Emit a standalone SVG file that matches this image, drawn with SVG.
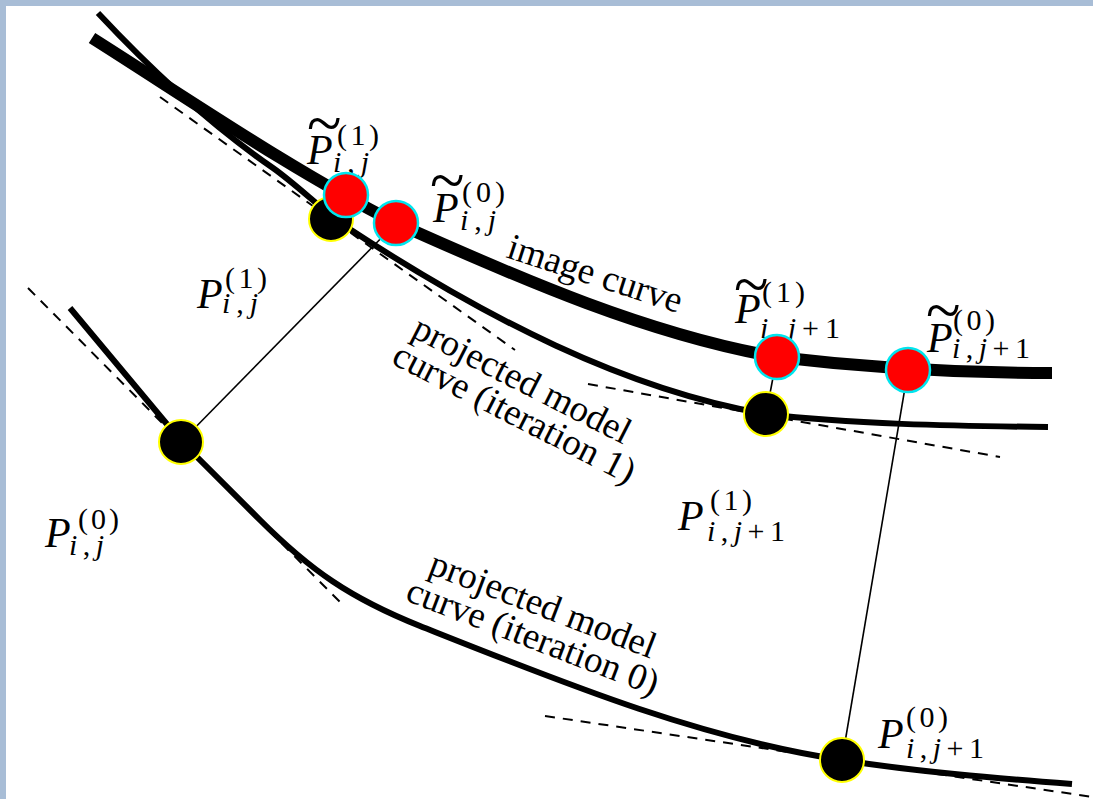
<svg xmlns="http://www.w3.org/2000/svg" width="1093" height="799" viewBox="0 0 1093 799">
<style>
.curve{fill:none;stroke:#000;stroke-linecap:butt;stroke-linejoin:round}
.img{stroke-width:12}
.mod{stroke-width:6}
.tan{fill:none;stroke:#000;stroke-width:2;stroke-dasharray:10 8}
.link{stroke:#000;stroke-width:1.6;fill:none}
.pt{fill:#000;stroke:#ffff00;stroke-width:2}
.ip{fill:#ff0000;stroke:#00e5ee;stroke-width:2.5}
text{font-family:"Liberation Serif","Times New Roman",serif;fill:#000}
.P{font-size:42px;font-style:italic}
.s{font-size:30px}
.it{font-style:italic}
.tl{font-size:44px}
.lab{font-size:37px}
</style>
<rect x="0" y="0" width="1093" height="799" fill="#a8bdd6"/>
<rect x="6" y="6" width="1087" height="793" fill="#ffffff"/>

<g id="tangents">
<line class="tan" x1="28" y1="288" x2="340" y2="602"/>
<line class="tan" x1="160" y1="97" x2="515" y2="350"/>
<line class="tan" x1="588" y1="384" x2="1000" y2="457"/>
<line class="tan" x1="545" y1="716" x2="1093" y2="797"/>
</g>

<g id="curves">
<path id="image-curve" class="curve img" d="M92,38 C193,102 295,172 396,223 C523,280 650,335 777,357 C869,368 960,373 1052,373"/>
<path id="model-curve-1" class="curve mod" d="M98,13 C156,75 215,128 273,168 C297,185 321,209 345,226 C485,318 626,390 766,414 C850,424 950,426 1048,427"/>
<path id="model-curve-0" class="curve mod" d="M70,308 L181,441 L260,520 C310,570 350,598 420,626 C561,682 701,739 842,760 C919,772 995,778 1072,784"/>
</g>

<g id="connectors">
<line class="link" x1="181" y1="442" x2="396" y2="223"/>
<line class="link" x1="766" y1="414" x2="777" y2="357"/>
<line class="link" x1="842" y1="760" x2="908" y2="370"/>
</g>

<g id="curve-labels">
<text class="lab" transform="translate(505,257) rotate(18)">image curve</text>
<text class="lab" transform="translate(410,336) rotate(27)">projected model</text>
<text class="lab" transform="translate(390,363) rotate(27)">curve (iteration 1)</text>
<text class="lab" transform="translate(427,573) rotate(21)">projected model</text>
<text class="lab" transform="translate(404,600) rotate(21)">curve (iteration 0)</text>
</g>

<g id="P0_ij">
<text class="P" x="45" y="547">P</text>
<text class="s" x="78" y="529" textLength="41" lengthAdjust="spacing">(0)</text>
<text class="s" x="69" y="555" textLength="35" lengthAdjust="spacing"><tspan class="it">i</tspan>,<tspan class="it">j</tspan></text>
<circle class="pt" cx="181" cy="442" r="22"/>
</g>

<g id="P1_ij">
<text class="P" x="197" y="308">P</text>
<text class="s" x="225" y="288" textLength="42" lengthAdjust="spacing">(1)</text>
<text class="s" x="222" y="313" textLength="36" lengthAdjust="spacing"><tspan class="it">i</tspan>,<tspan class="it">j</tspan></text>
<circle class="pt" cx="331" cy="219" r="22"/>
</g>

<g id="P1_ij1">
<text class="P" x="678" y="530">P</text>
<text class="s" x="710" y="510" textLength="42" lengthAdjust="spacing">(1)</text>
<text class="s" x="707" y="541" textLength="78" lengthAdjust="spacing"><tspan class="it">i</tspan>,<tspan class="it">j</tspan>+1</text>
<circle class="pt" cx="766" cy="414" r="22"/>
</g>

<g id="P0_ij1">
<text class="P" x="878" y="748">P</text>
<text class="s" x="906" y="727" textLength="42" lengthAdjust="spacing">(0)</text>
<text class="s" x="906" y="758" textLength="78" lengthAdjust="spacing"><tspan class="it">i</tspan>,<tspan class="it">j</tspan>+1</text>
<circle class="pt" cx="842" cy="760" r="22"/>
</g>

<g id="Pt1_ij">
<text class="tl" transform="translate(307,145) scale(1.45,1.5)">~</text>
<text class="P" x="307" y="164">P</text>
<text class="s" x="337" y="145" textLength="42" lengthAdjust="spacing">(1)</text>
<text class="s" x="333" y="172" textLength="36" lengthAdjust="spacing"><tspan class="it">i</tspan>,<tspan class="it">j</tspan></text>
<circle class="ip" cx="346" cy="195" r="22"/>
</g>

<g id="Pt0_ij">
<text class="tl" transform="translate(430,202) scale(1.45,1.5)">~</text>
<text class="P" x="433" y="222">P</text>
<text class="s" x="462" y="202" textLength="43" lengthAdjust="spacing">(0)</text>
<text class="s" x="460" y="230" textLength="36" lengthAdjust="spacing"><tspan class="it">i</tspan>,<tspan class="it">j</tspan></text>
<circle class="ip" cx="396" cy="223" r="22"/>
</g>

<g id="Pt1_ij1">
<text class="tl" transform="translate(734,306) scale(1.45,1.5)">~</text>
<text class="P" x="735" y="323">P</text>
<text class="s" x="762" y="302" textLength="43" lengthAdjust="spacing">(1)</text>
<text class="s" x="760" y="338" textLength="80" lengthAdjust="spacing"><tspan class="it">i</tspan>,<tspan class="it">j</tspan>+1</text>
<circle class="ip" cx="777" cy="357" r="22"/>
</g>

<g id="Pt0_ij1">
<text class="tl" transform="translate(926,332) scale(1.45,1.5)">~</text>
<text class="P" x="927" y="352">P</text>
<text class="s" x="953" y="330" textLength="42" lengthAdjust="spacing">(0)</text>
<text class="s" x="952" y="358" textLength="78" lengthAdjust="spacing"><tspan class="it">i</tspan>,<tspan class="it">j</tspan>+1</text>
<circle class="ip" cx="908" cy="370" r="22"/>
</g>
</svg>
